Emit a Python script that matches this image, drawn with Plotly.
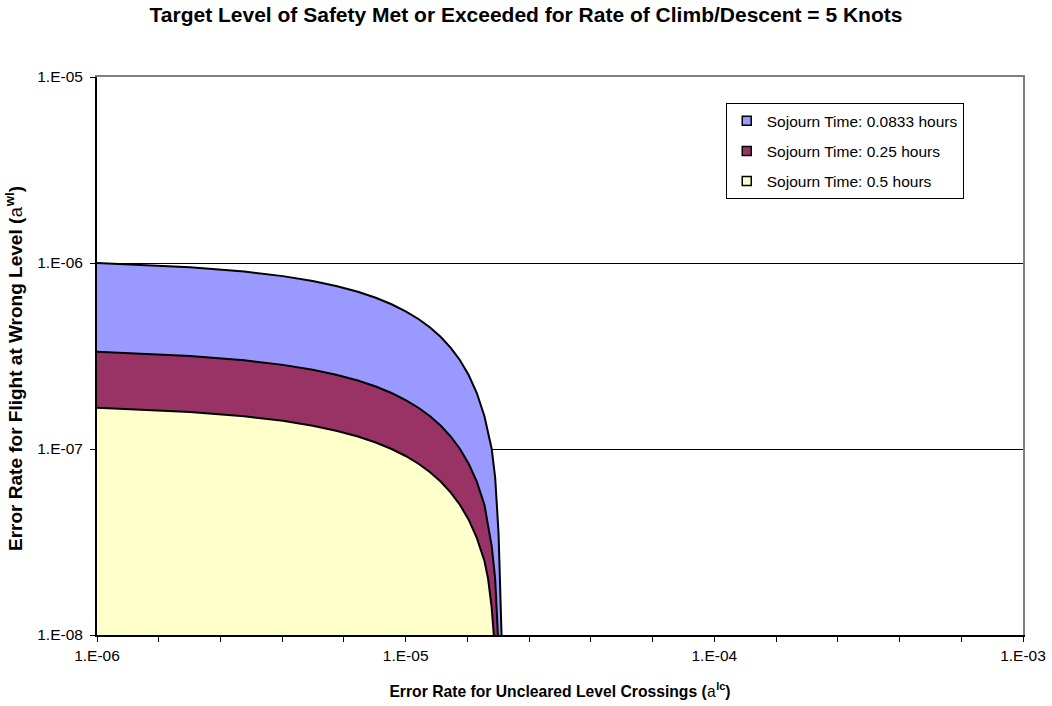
import plotly.graph_objects as go

# Boundary of the acceptable region for each sojourn time
# (x: uncleared level crossing error rate, y: wrong-level error rate)
x_0833 = [1.0e-6, 1.5e-6, 2e-6, 3e-6, 4e-6, 5e-6, 6e-6, 7e-6, 8e-6, 9e-6,
          1.0e-5, 1.1e-5, 1.2e-5, 1.3e-5, 1.4e-5, 1.5e-5, 1.6e-5, 1.7e-5,
          1.8e-5, 1.9e-5, 1.95e-5, 2.0e-5, 2.03e-5, 2.05e-5, 2.07e-5]
y_0833 = [1.00e-6, 0.975e-6, 0.95e-6, 0.90e-6, 0.85e-6, 0.80e-6, 0.75e-6,
          0.70e-6, 0.65e-6, 0.60e-6, 0.55e-6, 0.50e-6, 0.45e-6, 0.40e-6,
          0.35e-6, 0.30e-6, 0.25e-6, 0.20e-6, 0.15e-6, 0.10e-6, 0.07e-6,
          0.035e-6, 0.018e-6, 1.0e-8, 5e-9]

x_025 = [1.0e-6, 1.5e-6, 2e-6, 3e-6, 4e-6, 5e-6, 6e-6, 7e-6, 8e-6, 9e-6,
         1.0e-5, 1.1e-5, 1.2e-5, 1.3e-5, 1.4e-5, 1.5e-5, 1.6e-5, 1.7e-5,
         1.8e-5, 1.9e-5, 1.95e-5, 1.99e-5, 2.02e-5]
y_025 = [3.333e-7, 3.25e-7, 3.167e-7, 3.0e-7, 2.833e-7, 2.667e-7, 2.5e-7,
         2.333e-7, 2.167e-7, 2.0e-7, 1.833e-7, 1.667e-7, 1.5e-7, 1.333e-7,
         1.167e-7, 1.0e-7, 0.833e-7, 0.667e-7, 0.5e-7, 0.3e-7, 0.2e-7,
         1.0e-8, 5e-9]

x_05 = [1.0e-6, 1.5e-6, 2e-6, 3e-6, 4e-6, 5e-6, 6e-6, 7e-6, 8e-6, 9e-6,
        1.0e-5, 1.1e-5, 1.2e-5, 1.3e-5, 1.4e-5, 1.5e-5, 1.6e-5, 1.7e-5,
        1.8e-5, 1.85e-5, 1.9e-5, 1.93e-5, 1.96e-5]
y_05 = [1.667e-7, 1.625e-7, 1.583e-7, 1.5e-7, 1.417e-7, 1.333e-7, 1.25e-7,
        1.167e-7, 1.083e-7, 1.0e-7, 0.917e-7, 0.833e-7, 0.75e-7, 0.667e-7,
        0.583e-7, 0.5e-7, 0.417e-7, 0.333e-7, 0.25e-7, 0.2e-7, 0.14e-7,
        1.0e-8, 6e-9]

series_names = ["Sojourn Time: 0.0833 hours",
                "Sojourn Time: 0.25 hours",
                "Sojourn Time: 0.5 hours"]
series_colors = ["#9999FF", "#993366", "#FFFFCC"]

# Axis ticks: decade labels on both axes, five ticks per decade on x
x_tick_vals = [10 ** (-6 + 0.2 * i) for i in range(16)]
x_tick_text = ["1.E-0%d" % (6 - i // 5) if i % 5 == 0 else "" for i in range(16)]
y_tick_vals = [1e-8, 1e-7, 1e-6, 1e-5]
y_tick_text = ["1.E-08", "1.E-07", "1.E-06", "1.E-05"]

FONT = "Liberation Sans, Arial, sans-serif"
MONO = "Liberation Mono"

fig = go.Figure()

curves = [(x_0833, y_0833), (x_025, y_025), (x_05, y_05)]
for (xs, ys), name, color in zip(curves, series_names, series_colors):
    fig.add_trace(go.Scatter(
        x=xs, y=ys, mode="lines", fill="tozeroy", fillcolor=color,
        line=dict(color="black", width=2), showlegend=False, name=name,
        hoverinfo="skip",
    ))

# Legend swatches
for i, (name, color) in enumerate(zip(series_names, series_colors)):
    fig.add_trace(go.Scatter(
        x=[None], y=[None], mode="markers", name=name,
        legendgroup="g%d" % i,
        marker=dict(symbol="square", size=9, color=color,
                    line=dict(color="black", width=1.5)),
    ))

# Frame on the top and right edges
fig.add_trace(go.Scatter(x=[None], y=[None], xaxis="x2", yaxis="y2",
                         showlegend=False, hoverinfo="skip"))

fig.update_layout(
    width=1052, height=706,
    margin=dict(l=97, r=29, t=77, b=71, autoexpand=False),
    paper_bgcolor="white", plot_bgcolor="white",
    font=dict(family=FONT, size=15, color="black"),
    title=dict(
        text="<b>Target Level of Safety Met or Exceeded for Rate of Climb/Descent = 5 Knots</b>",
        x=0.5, xanchor="center", y=0.979, yanchor="middle",
        font=dict(family=FONT, size=21, color="black"),
    ),
    xaxis=dict(
        type="log", range=[-6, -3], automargin=False,
        tickmode="array", tickvals=x_tick_vals, ticktext=x_tick_text,
        ticks="outside", ticklen=5, tickcolor="black", tickwidth=1,
        showline=True, linecolor="black", linewidth=2,
        showgrid=False, zeroline=False,
        tickfont=dict(family=FONT, size=15.5),
        title=dict(
            text="<b>Error Rate for Uncleared Level Crossings (</b>"
                 "<span style='font-family:" + MONO + ";font-weight:normal'>a</span>"
                 "<sup><b>lc</b></sup><b>)</b>",
            font=dict(family=FONT, size=15.7), standoff=23,
        ),
    ),
    yaxis=dict(
        type="log", range=[-8, -5], automargin=False,
        tickmode="array", tickvals=y_tick_vals, ticktext=y_tick_text,
        ticks="outside", ticklen=5, tickcolor="black", tickwidth=1,
        ticklabelstandoff=4,
        showline=True, linecolor="black", linewidth=2,
        showgrid=True, gridcolor="black", gridwidth=1,
        zeroline=False,
        tickfont=dict(family=FONT, size=15.5),
    ),
    xaxis2=dict(overlaying="x", side="top", type="log", range=[-6, -3],
                automargin=False,
                showline=True, linecolor="#808080", linewidth=2,
                showticklabels=False, ticks="", showgrid=False, zeroline=False),
    yaxis2=dict(overlaying="y", side="right", type="log", range=[-8, -5],
                automargin=False,
                showline=True, linecolor="#808080", linewidth=2,
                showticklabels=False, ticks="", showgrid=False, zeroline=False),
    legend=dict(
        x=0.679, xanchor="left", y=0.953, yanchor="top",
        bgcolor="white", bordercolor="black", borderwidth=1,
        font=dict(family=FONT, size=15.5),
        itemwidth=30, tracegroupgap=7,
    ),
)

# Vertical axis title, set slightly below the middle of the plot area
fig.add_annotation(
    text="<b>Error Rate for Flight at Wrong Level (</b>"
         "<span style='font-family:" + MONO + ";font-weight:normal'>a</span>"
         "<sup><b>wl</b></sup><b>)</b>",
    xref="paper", yref="paper", x=-0.0886, y=0.4785,
    xanchor="center", yanchor="middle", textangle=-90, showarrow=False,
    font=dict(family=FONT, size=19, color="black"),
)

fig.write_html("out.html")
